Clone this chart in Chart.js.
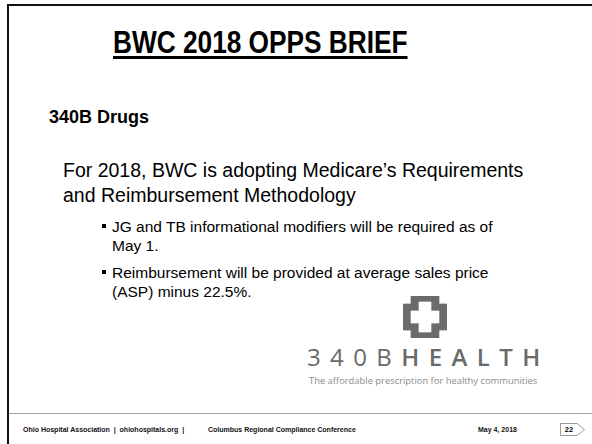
<!DOCTYPE html>
<html>
<head>
<meta charset="utf-8">
<script src="https://cdn.jsdelivr.net/npm/chart.js@4/dist/chart.umd.min.js"></script>
<style>
  html, body { margin: 0; padding: 0; background: #fff; }
  body { width: 592px; height: 444px; position: relative; overflow: hidden; font-family: "Liberation Sans", Arial, sans-serif; color: #000; }
  .abs { position: absolute; white-space: nowrap; }
  #frameTop { position: absolute; left: 7px; top: 4px; width: 585px; height: 2px; background: #111; }
  #frameLeft { position: absolute; left: 7px; top: 4px; width: 2px; height: 440px; background: #111; }
  #footLine { position: absolute; left: 9px; top: 413px; width: 583px; height: 1px; background: #a0a0a0; }
  #title { left: 113px; top: 24px; font-size: 32px; font-weight: bold; text-decoration: underline; text-decoration-thickness: 3px; text-underline-offset: 3px; transform: scaleX(0.82); transform-origin: left top; }
  #sub { left: 49px; top: 107px; font-size: 18px; font-weight: bold; }
  #para { left: 63px; top: 158px; font-size: 19.5px; line-height: 25px; }
  .bul { left: 102px; font-size: 15.5px; line-height: 19px; }
  .bul .dot { position: absolute; left: 0; top: 7px; width: 4px; height: 4px; background: #000; }
  .bul .txt { position: absolute; left: 10px; top: 0; }
  #logoWord { left: 307px; top: 344px; font-family: "Open Sans", sans-serif; font-size: 24px; letter-spacing: 9.4px; color: #6a6a6a; line-height: 26px; }
  #logoWord b { font-weight: 600; }
  #tag { left: 309px; top: 374px; font-family: "Open Sans", sans-serif; font-size: 9.4px; color: #8c8c8c; }
  .foot { top: 426px; font-size: 7px; font-weight: bold; color: #111; }
  #pgBox { position: absolute; left: 560px; top: 423px; width: 17px; height: 13px; border: 1px solid #999; border-right: none; box-sizing: border-box; font-size: 7.5px; font-weight: bold; text-align: center; line-height: 11px; }
  #pgArrow { position: absolute; left: 577px; top: 423px; width: 8px; height: 13px; }
  #logoChart { position: absolute; left: 403px; top: 296px; width: 44px; height: 42px; }
</style>
</head>
<body>
<div id="frameTop"></div>
<div id="frameLeft"></div>
<div id="footLine"></div>

<div class="abs" id="title"></div>
<div class="abs" id="sub"></div>
<div class="abs" id="para"></div>
<div id="bullets"></div>

<div id="logoChart"><canvas id="cv" width="44" height="42"></canvas></div>
<div class="abs" id="logoWord"></div>
<div class="abs" id="tag"></div>

<div class="abs foot" id="f1" style="left:23px;"></div>
<div class="abs foot" id="f2" style="left:208px;"></div>
<div class="abs foot" id="f3" style="left:478px;"></div>
<div id="pgBox"></div>
<svg id="pgArrow" viewBox="0 0 8 13"><polyline points="0,0.5 7.5,6.5 0,12.5" fill="none" stroke="#999" stroke-width="1"/></svg>

<script>
// ---- slide text ----
const titleText = "BWC 2018 OPPS BRIEF";
const subheading = "340B Drugs";
const paragraphLines = ["For 2018, BWC is adopting Medicare\u2019s Requirements", "and Reimbursement Methodology"];
const bulletItems = [
  ["JG and TB informational modifiers will be required as of", "May 1."],
  ["Reimbursement will be provided at average sales price", "(ASP) minus 22.5%."]
];
const logoLight = "340B";
const logoBold = "HEALTH";
const logoTagline = "The affordable prescription for healthy communities";
const footerLeft = "Ohio Hospital Association  |  ohiohospitals.org  |";
const footerMid = "Columbus Regional Compliance Conference";
const footerDate = "May 4, 2018";
const pageNumber = "22";

// ---- logo cross (column ranges, bottom-up) ----
const crossColumns = ["c1","c2","c3","c4","c5","c6","c7","c8","c9","c10","c11"];
const outerCross = [[8,34],[8,34],[0,42],[0,42],[0,42],[0,42],[0,42],[0,42],[0,42],[8,34],[8,34]];
const innerPlus  = [null,null,[15,27],[15,27],[6,36],[6,36],[6,36],[15,27],[15,27],null,null];

document.getElementById('title').textContent = titleText;
document.getElementById('sub').textContent = subheading;
document.getElementById('para').innerHTML = paragraphLines.join('<br>');
const bulletTops = [217, 263];
const bw = document.getElementById('bullets');
bulletItems.forEach((lines, i) => {
  const d = document.createElement('div');
  d.className = 'abs bul';
  d.style.top = bulletTops[i] + 'px';
  const dot = document.createElement('div'); dot.className = 'dot';
  const t = document.createElement('div'); t.className = 'txt'; t.innerHTML = lines.join('<br>');
  d.appendChild(dot); d.appendChild(t);
  bw.appendChild(d);
});
document.getElementById('logoWord').innerHTML = logoLight + '<b>' + logoBold + '</b>';
document.getElementById('tag').textContent = logoTagline;
document.getElementById('f1').textContent = footerLeft;
document.getElementById('f1').style.whiteSpace = 'pre';
document.getElementById('f2').textContent = footerMid;
document.getElementById('f3').textContent = footerDate;
document.getElementById('pgBox').textContent = pageNumber;

new Chart(document.getElementById('cv'), {
  type: 'bar',
  data: {
    labels: crossColumns,
    datasets: [
      { data: innerPlus, backgroundColor: '#ffffff', grouped: false, order: 0, borderWidth: 0, categoryPercentage: 1, barPercentage: 1 },
      { data: outerCross, backgroundColor: '#6b6b6b', grouped: false, order: 1, borderWidth: 0, categoryPercentage: 1, barPercentage: 1 }
    ]
  },
  options: {
    responsive: false,
    animation: false,
    events: [],
    layout: { padding: 0 },
    plugins: { legend: { display: false }, tooltip: { enabled: false } },
    scales: {
      x: { display: false },
      y: { display: false, min: 0, max: 42 }
    }
  }
});
</script>
</body>
</html>
